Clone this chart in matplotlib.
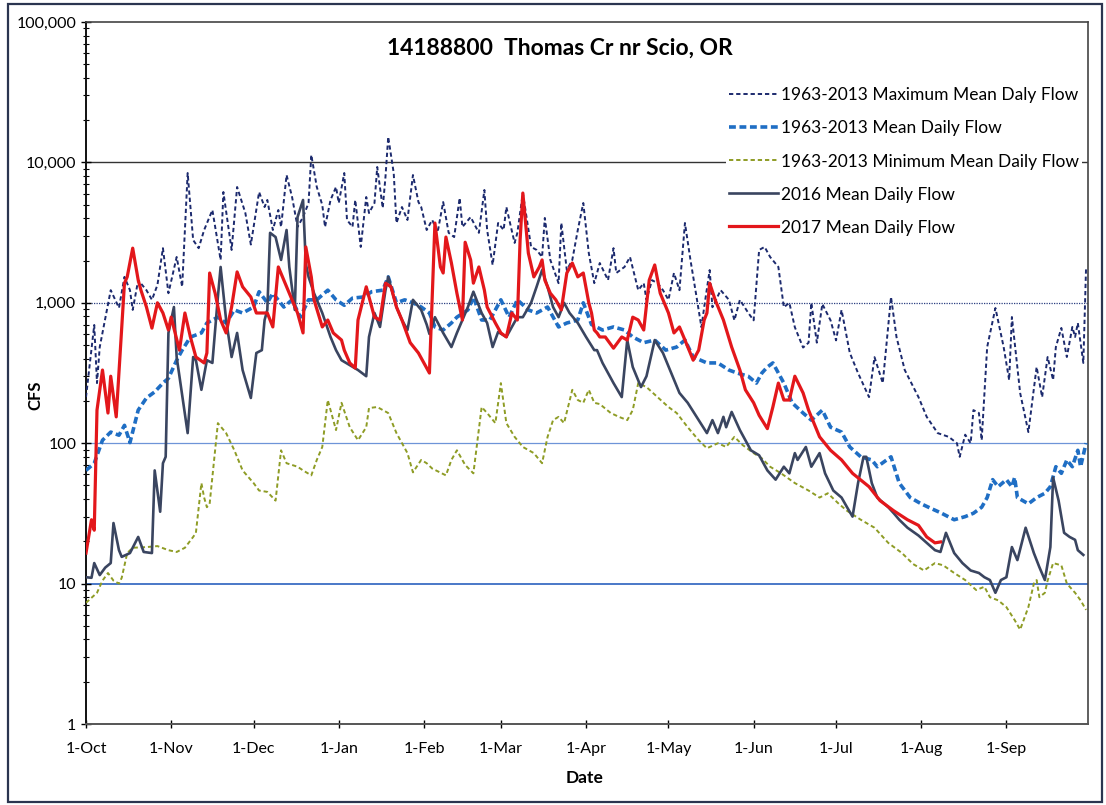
import datetime as dt
import matplotlib
matplotlib.use("Agg")
import matplotlib.pyplot as plt
import matplotlib.dates as mdates
import matplotlib.ticker as mticker
from matplotlib.patches import Rectangle

plt.rcParams['font.family'] = ['Lato', 'DejaVu Sans']

# (day of water year, cfs); day 0 = 1-Oct
max_flow = [(0, 213), (3, 695), (4, 268), (5, 484), (9, 1230), (12, 920), (14, 1530), (16, 1230),
            (17, 890), (19, 1450), (22, 1230), (24, 1050), (26, 1340), (28, 2450), (30, 1170), (33, 2120),
            (35, 1300), (37, 8400), (39, 2800), (41, 2450), (43, 3300), (46, 4580), (49, 2020), (50, 6150),
            (53, 2380), (55, 6680), (58, 4360), (60, 2600), (63, 6150), (65, 4810), (66, 5400), (68, 3300),
            (70, 4580), (71, 3470), (73, 8130), (75, 5670), (77, 3470), (79, 4080), (81, 5140), (82, 11300),
            (84, 6680), (86, 4970), (87, 3470), (89, 5400), (91, 6680), (92, 5140), (94, 8400), (95, 3890),
            (97, 3470), (98, 5400), (100, 2500), (102, 5670), (103, 4360), (105, 5140), (106, 9270),
            (108, 4730), (109, 7870), (110, 15200), (112, 8400), (113, 3700), (115, 4810), (117, 3890),
            (119, 8130), (121, 5220), (122, 4810), (124, 3300), (126, 3890), (128, 3190), (130, 5220),
            (132, 3150), (134, 2940), (136, 5580), (137, 3470), (140, 4080), (143, 3150), (145, 6360),
            (146, 3300), (148, 1860), (150, 3700), (152, 3300), (153, 4810), (156, 2670), (157, 3150),
            (159, 6050), (162, 2500), (164, 2380), (166, 2120), (167, 4020), (169, 2020), (172, 1380),
            (173, 3700), (175, 1710), (177, 2020), (179, 3300), (181, 5140), (183, 2260), (185, 1380),
            (187, 1920), (190, 1450), (192, 2450), (193, 1630), (196, 1800), (198, 2120), (201, 1230),
            (203, 1380), (204, 1050), (206, 1450), (208, 1380), (210, 1230), (212, 1050), (214, 1630),
            (216, 1230), (218, 3700), (220, 2020), (222, 1170), (224, 670), (225, 930), (227, 1710),
            (228, 930), (231, 1230), (234, 1050), (236, 750), (238, 1050), (241, 850), (243, 750),
            (245, 2380), (247, 2500), (249, 2120), (252, 1800), (254, 930), (256, 1000), (258, 670),
            (261, 480), (263, 520), (264, 1000), (266, 520), (268, 980), (271, 750), (273, 540), (275, 890),
            (278, 440), (281, 316), (285, 213), (287, 410), (290, 268), (293, 1100), (295, 570), (298, 332),
            (303, 213), (306, 154), (310, 118), (314, 111), (317, 100), (318, 80), (320, 115), (322, 100),
            (323, 172), (325, 164), (326, 105), (328, 484), (331, 918), (334, 484), (336, 282), (337, 792),
            (340, 228), (343, 120), (346, 349), (348, 213), (350, 411), (352, 282), (353, 484), (355, 662),
            (357, 411), (359, 673), (360, 571), (361, 718), (363, 373), (364, 1800)]

mean_flow = [(0, 64), (3, 72), (6, 105), (9, 120), (12, 114), (14, 134), (16, 101), (19, 172), (22, 210),
             (25, 232), (28, 268), (30, 290), (33, 390), (35, 460), (38, 570), (42, 610), (44, 718),
             (48, 790), (51, 718), (54, 890), (57, 846), (61, 933), (63, 1200), (66, 1000), (68, 1170),
             (72, 933), (75, 1050), (78, 790), (81, 1050), (84, 1050), (88, 1230), (91, 1050), (94, 960),
             (97, 1080), (101, 1100), (104, 1200), (108, 1230), (110, 1530), (113, 1000), (116, 1050),
             (119, 1000), (122, 933), (125, 846), (127, 673), (130, 640), (133, 718), (135, 790), (139, 890),
             (141, 1100), (144, 754), (147, 754), (151, 1050), (154, 790), (157, 1050), (161, 890),
             (164, 846), (168, 933), (172, 673), (175, 718), (179, 754), (181, 1000), (184, 700), (188, 640),
             (192, 673), (196, 640), (199, 571), (203, 520), (207, 543), (211, 460), (215, 484), (218, 543),
             (221, 411), (226, 373), (230, 373), (234, 332), (237, 316), (241, 300), (244, 268), (246, 316),
             (248, 349), (250, 373), (254, 268), (257, 194), (261, 164), (264, 146), (268, 172), (271, 130),
             (275, 120), (278, 94), (282, 80), (286, 76), (288, 68), (293, 80), (296, 52), (300, 41),
             (304, 37), (308, 34), (311, 32), (316, 28.5), (320, 30), (323, 31.7), (326, 35), (328, 41),
             (330, 55), (332, 49), (335, 55), (337, 49), (338, 57), (339, 41), (343, 37), (346, 41),
             (349, 44), (351, 49), (353, 68), (355, 61), (357, 76), (359, 68), (361, 89), (362, 68),
             (364, 100)]

min_flow = [(0, 7.3), (4, 8.6), (6, 10.5), (8, 11.9), (10, 10.5), (12, 10), (13, 11), (15, 16.5), (17, 18),
            (22, 18.2), (26, 18.5), (30, 17.3), (33, 16.8), (36, 18), (39, 21.5), (40, 23), (42, 52),
            (43, 41), (44, 35), (45, 37), (48, 139), (51, 118), (54, 89), (57, 64), (61, 52), (63, 46),
            (66, 45), (69, 39), (71, 89), (73, 72), (77, 68), (79, 64), (82, 59), (84, 76), (86, 94),
            (88, 203), (91, 124), (93, 194), (96, 130), (99, 105), (102, 130), (103, 178), (106, 181),
            (110, 164), (113, 118), (117, 85), (119, 62), (122, 76), (124, 72), (126, 66), (131, 59),
            (133, 76), (135, 89), (138, 70), (141, 61), (144, 181), (146, 164), (149, 139), (151, 268),
            (153, 139), (156, 111), (159, 94), (163, 85), (166, 72), (168, 111), (170, 146), (172, 154),
            (174, 139), (177, 240), (179, 203), (181, 194), (183, 240), (185, 194), (187, 190), (191, 164),
            (194, 154), (197, 146), (199, 172), (201, 268), (204, 251), (208, 213), (212, 181), (215, 164),
            (219, 130), (223, 105), (226, 92), (230, 100), (233, 94), (236, 111), (239, 97), (243, 85),
            (246, 78), (249, 68), (253, 61), (258, 52), (263, 46), (267, 41), (270, 44), (274, 37),
            (277, 33), (282, 28.5), (287, 25), (292, 19.5), (297, 16.5), (301, 13.8), (305, 12.4),
            (309, 14), (312, 13.5), (316, 11.9), (320, 10.6), (324, 9), (327, 9.5), (329, 8), (332, 7.6),
            (335, 6.8), (338, 5.5), (340, 4.7), (343, 6.8), (345, 10), (346, 10.6), (347, 8), (349, 8.6),
            (350, 10.5), (352, 14), (355, 13.5), (357, 10), (360, 8.6), (362, 7.6), (364, 6.5)]

flow_2016 = [(0, 11.1), (2, 11), (3, 14), (5, 11.5), (7, 13), (9, 14), (10, 27), (12, 17.3), (13, 15.5),
             (16, 16.5), (19, 21.5), (21, 16.8), (24, 16.5), (25, 64), (27, 32.5), (28, 72), (29, 80),
             (30, 610), (32, 933), (33, 411), (37, 118), (39, 411), (40, 390), (42, 240), (44, 390),
             (46, 373), (48, 1100), (49, 1800), (51, 754), (53, 411), (55, 610), (57, 332), (60, 210),
             (62, 439), (64, 460), (65, 754), (66, 890), (67, 3150), (69, 2940), (71, 2020), (73, 3300),
             (74, 1800), (76, 890), (77, 4080), (79, 5400), (80, 1900), (81, 1530), (83, 1170), (86, 846),
             (89, 571), (91, 460), (93, 390), (96, 360), (99, 332), (102, 300), (103, 571), (105, 846),
             (107, 673), (109, 1230), (110, 1530), (113, 933), (115, 754), (117, 640), (119, 1050),
             (122, 890), (124, 700), (125, 600), (127, 790), (130, 610), (133, 484), (135, 610), (139, 933),
             (141, 1200), (144, 846), (146, 718), (148, 484), (150, 620), (153, 571), (155, 673), (157, 790),
             (159, 790), (162, 1000), (164, 1300), (166, 1710), (168, 1300), (170, 933), (172, 790),
             (174, 1000), (176, 846), (179, 718), (182, 571), (185, 460), (186, 460), (188, 373), (192, 268),
             (195, 213), (197, 543), (199, 349), (202, 251), (204, 300), (207, 543), (210, 439), (213, 316),
             (216, 228), (219, 194), (223, 146), (226, 118), (228, 146), (230, 118), (232, 154), (233, 130),
             (235, 167), (238, 124), (242, 89), (245, 82), (248, 64), (251, 55), (254, 68), (256, 61),
             (258, 85), (259, 76), (262, 94), (264, 68), (267, 85), (269, 61), (272, 46), (275, 41),
             (277, 35), (279, 30), (281, 52), (283, 80), (284, 80), (286, 52), (288, 41), (292, 35),
             (294, 31.7), (296, 28.5), (299, 25), (303, 22), (306, 19.5), (309, 17.3), (311, 16.8), (313, 23),
             (316, 16.5), (319, 14), (322, 12.4), (325, 11.9), (327, 11.1), (329, 10.6), (331, 8.6),
             (333, 10.6), (335, 11.1), (337, 18.2), (339, 14.7), (342, 25), (345, 16.5), (347, 13.1),
             (349, 10.6), (351, 18.2), (352, 57), (354, 39), (356, 23), (358, 21.5), (360, 20.5),
             (361, 17.3), (363, 16)]

flow_2017 = [(0, 16.5), (2, 28.5), (3, 24), (4, 172), (5, 240), (6, 332), (8, 164), (9, 300), (11, 154),
             (13, 673), (14, 1380), (15, 1530), (17, 2450), (19, 1450), (20, 1230), (22, 933), (24, 660),
             (26, 1000), (28, 846), (30, 640), (31, 790), (34, 460), (36, 846), (38, 571), (40, 411),
             (43, 373), (44, 439), (45, 1630), (47, 1170), (49, 754), (51, 610), (53, 933), (55, 1660),
             (57, 1300), (60, 1100), (62, 846), (65, 846), (66, 846), (68, 673), (70, 1800), (72, 1450),
             (75, 1050), (77, 846), (79, 610), (80, 2500), (82, 1530), (83, 1050), (86, 673), (88, 754),
             (90, 610), (93, 543), (94, 460), (96, 373), (98, 343), (99, 754), (102, 1300), (103, 1100),
             (105, 790), (107, 754), (109, 1380), (111, 1300), (113, 933), (115, 754), (118, 520), (121, 439),
             (123, 373), (125, 316), (126, 1100), (127, 3700), (129, 1800), (130, 1630), (131, 2940),
             (133, 1920), (135, 1170), (137, 754), (138, 2700), (140, 2020), (141, 1380), (143, 1800),
             (145, 1230), (146, 933), (149, 718), (151, 610), (153, 571), (155, 846), (157, 754), (158, 2800),
             (159, 6050), (161, 2260), (163, 1530), (165, 1800), (166, 2020), (167, 1450), (169, 1170),
             (171, 1050), (173, 890), (175, 1630), (177, 1920), (179, 1530), (181, 1630), (183, 1000),
             (184, 846), (185, 640), (186, 610), (187, 571), (189, 571), (192, 475), (195, 571), (197, 543),
             (199, 790), (201, 754), (203, 640), (205, 1450), (207, 1860), (209, 1170), (212, 846),
             (214, 610), (216, 673), (218, 543), (221, 390), (223, 460), (225, 754), (226, 846), (227, 1380),
             (229, 1050), (232, 754), (235, 484), (238, 332), (240, 240), (243, 194), (245, 158), (248, 127),
             (250, 181), (252, 268), (254, 203), (256, 203), (258, 300), (261, 228), (263, 172), (267, 111),
             (271, 89), (275, 76), (279, 61), (285, 49), (289, 39), (294, 33), (299, 28.5), (303, 26),
             (306, 21.5), (309, 19.5), (311, 19.8)]

labels = ['1963-2013 Maximum Mean Daly Flow', '1963-2013 Mean Daily Flow',
          '1963-2013 Minimum Mean Daily Flow', '2016 Mean Daily Flow', '2017 Mean Daily Flow']

start = mdates.date2num(dt.datetime(2016, 10, 1))


def unpack(series):
    days, cfs = zip(*series)
    return [start + d for d in days], list(cfs)


W, H = 1106, 805
fig = plt.figure(figsize=(W / 100, H / 100), dpi=100)
ax = fig.add_axes([86 / W, 1 - 724 / H, (1088 - 86) / W, (724 - 22) / H])

# outer chart border
fig.patches.append(Rectangle((8 / W, 3 / H), 1 - 12 / W, 1 - 7 / H, transform=fig.transFigure,
                             fill=False, edgecolor='#2b3550', lw=1.6))

# horizontal gridlines (each decade drawn a bit differently, as in the scan)
ax.axhline(10, color='#4a78c8', lw=1.4, zorder=1)
ax.axhline(100, color='#6e94d8', lw=0.9, zorder=1)
ax.axhline(1000, color='#2a3f80', lw=0.9, ls=(0, (1, 1)), zorder=1)
ax.axhline(10000, color='#333333', lw=1.0, zorder=1)

x, y = unpack(max_flow)
ax.plot(x, y, color='#1c2a6e', lw=1.4, dashes=(2.2, 1.5), label=labels[0], zorder=3)
x, y = unpack(mean_flow)
ax.plot(x, y, color='#1f6ec4', lw=2.6, dashes=(1.9, 1.0), label=labels[1], zorder=3)
x, y = unpack(min_flow)
ax.plot(x, y, color='#8e9c25', lw=1.4, dashes=(2.2, 1.5), label=labels[2], zorder=3)
x, y = unpack(flow_2016)
ax.plot(x, y, color='#3a4560', lw=1.9, label=labels[3], zorder=4)
x, y = unpack(flow_2017)
ax.plot(x, y, color='#e3171b', lw=2.3, label=labels[4], zorder=5)

ax.set_yscale('log')
ax.set_ylim(1, 100000)
ax.set_xlim(start, start + 364.7)
ax.yaxis.set_major_formatter(mticker.FuncFormatter(lambda v, p: f'{v:,.0f}'))
ax.yaxis.set_minor_locator(mticker.LogLocator(base=10, subs=range(2, 10)))
ax.yaxis.set_minor_formatter(mticker.NullFormatter())
ax.xaxis.set_major_locator(mdates.MonthLocator())
ax.xaxis.set_major_formatter(mticker.FuncFormatter(
    lambda v, p: f'{mdates.num2date(v).day}-{mdates.num2date(v).strftime("%b")}'))

ax.tick_params(axis='y', which='major', labelsize=11.5, direction='inout', length=7, width=1)
ax.tick_params(axis='y', which='minor', direction='inout', length=5, width=0.8)
ax.tick_params(axis='x', which='major', labelsize=11.5, direction='inout', length=6, width=1, pad=10)

for s in ['top', 'right']:
    ax.spines[s].set_color('#444444')
    ax.spines[s].set_linewidth(1.2)
ax.spines['left'].set_color('#111111')
ax.spines['left'].set_linewidth(1.4)
ax.spines['bottom'].set_color('#555555')
ax.spines['bottom'].set_linewidth(1.4)

fig.text(35 / W, 1 - 395 / H, 'CFS', rotation=90, ha='center', va='center', fontsize=12, fontweight='bold')
fig.text(585 / W, 1 - 778 / H, 'Date', ha='center', va='center', fontsize=12.5, fontweight='bold')

fig.text(560 / W, 1 - 48 / H, '14188800  Thomas Cr nr Scio, OR', ha='center', va='center',
         fontsize=16.5, fontweight='bold')

leg = ax.legend(loc='upper left', bbox_to_anchor=(726 / W, 1 - 84 / H), bbox_transform=fig.transFigure,
                fontsize=12.5, frameon=True, framealpha=1, facecolor='white', edgecolor='none',
                handlelength=2.8, handletextpad=0.15, labelspacing=0.98, borderpad=0.2, borderaxespad=0)
leg.set_zorder(10)

fig.savefig('out.png', dpi=100, facecolor='white')
